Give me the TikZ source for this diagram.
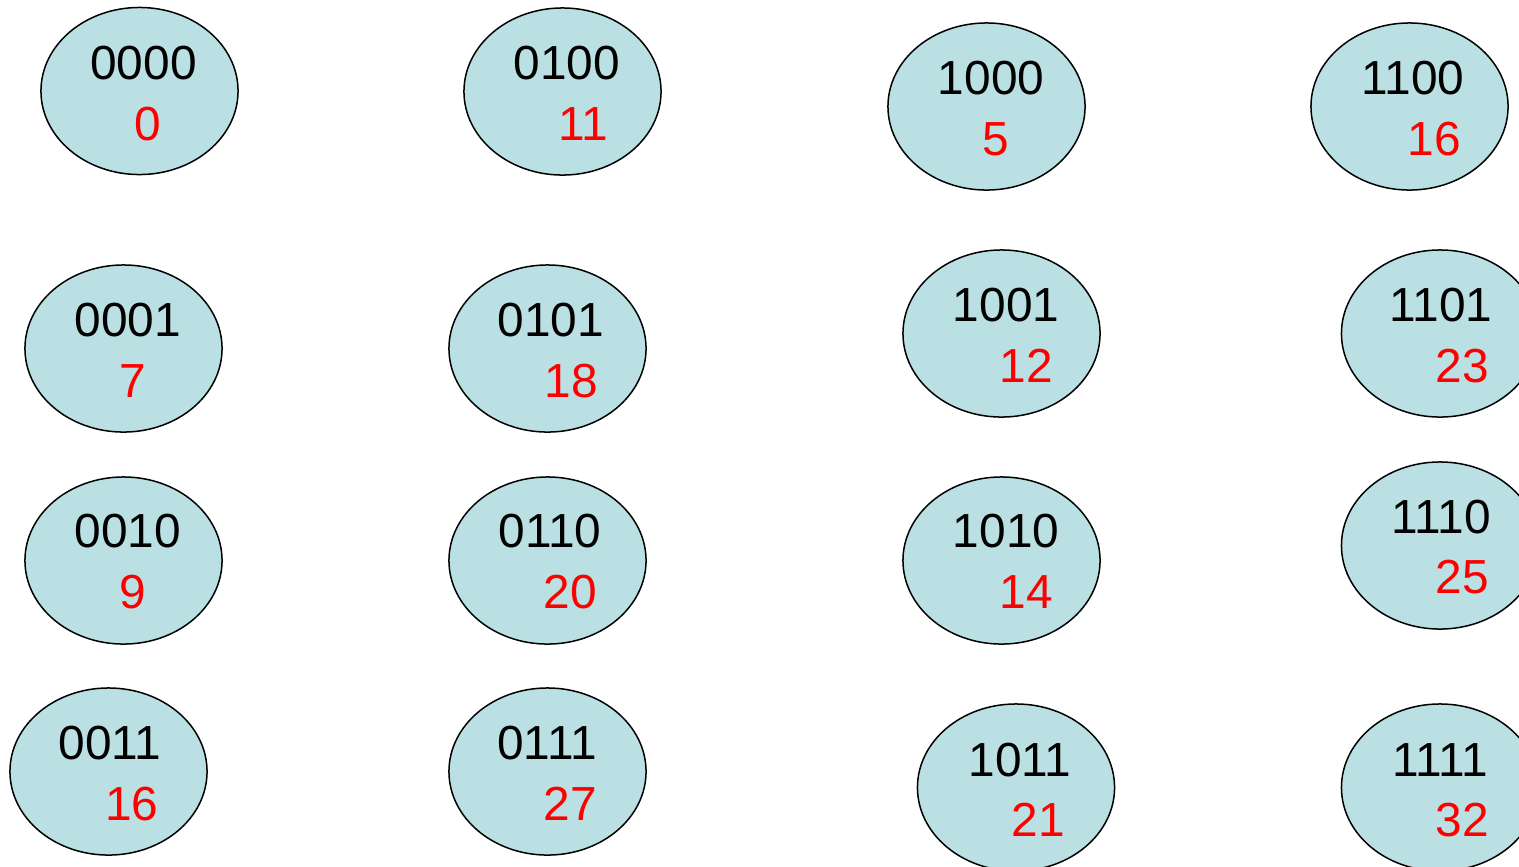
\documentclass[tikz,border=0pt]{standalone}
\usepackage{fontspec}
\setmainfont{Liberation Sans}
\definecolor{cellfill}{HTML}{BAE0E3}
\definecolor{numred}{HTML}{FF0000}
\tikzset{
  cell/.style={ellipse, draw=black, line width=0.15mm, fill=cellfill, minimum width=1.97cm, minimum height=1.67cm, inner sep=0pt},
  bin/.style={inner sep=0pt, text=black, font=\fontsize{13.6}{14}\selectfont},
  num/.style={inner sep=0pt, text=numred, font=\fontsize{13.6}{14}\selectfont}
}
\usetikzlibrary{shapes.geometric}
% #1 name, (#2,#3) ellipse centre px, (#4,#5) binary centre, #6 binary, (#7,#8) number centre, #9 number
\newcommand{\cellnode}[9]{%
  \node[cell] (e#1) at (#2,#3) {};
  \node[bin] (b#1) at (#4,#5) {#6};
  \node[num] (n#1) at (#7,#8) {#9};
}
\begin{document}
\begin{tikzpicture}[x=0.01cm,y=-0.01cm]
\useasboundingbox (0,0) rectangle (1519,866);
\cellnode{1}{139.5}{91}{143.5}{63}{0000}{147.5}{124}{0}
\cellnode{2}{562.5}{91.5}{567}{63}{0100}{583}{124}{11}
\cellnode{3}{986.5}{106.5}{991}{78}{1000}{996}{139}{5}
\cellnode{4}{1409.5}{106.5}{1413}{78}{1100}{1434}{139}{16}
\cellnode{5}{123.5}{348.5}{128}{320}{0001}{133}{381}{7}
\cellnode{6}{547.5}{348.5}{551}{320}{0101}{571}{381}{18}
\cellnode{7}{1001.5}{333.5}{1006}{305}{1001}{1026}{366}{12}
\cellnode{8}{1440}{333.5}{1441}{305}{1101}{1462}{366}{23}
\cellnode{9}{123.5}{560.5}{128}{531}{0010}{133}{592}{9}
\cellnode{10}{547.5}{560.5}{550}{531}{0110}{570}{592}{20}
\cellnode{11}{1001.5}{560.5}{1006}{531}{1010}{1026}{592}{14}
\cellnode{12}{1440}{545.5}{1441}{517}{1110}{1462}{577}{25}
\cellnode{13}{108.5}{771.5}{110}{743}{0011}{132}{804}{16}
\cellnode{14}{547.5}{771.5}{547}{743}{0111}{570}{804}{27}
\cellnode{15}{1016}{787.5}{1020}{760}{1011}{1038}{820}{21}
\cellnode{16}{1440}{787.5}{1440}{760}{1111}{1462}{820}{32}
\end{tikzpicture}
\end{document}
